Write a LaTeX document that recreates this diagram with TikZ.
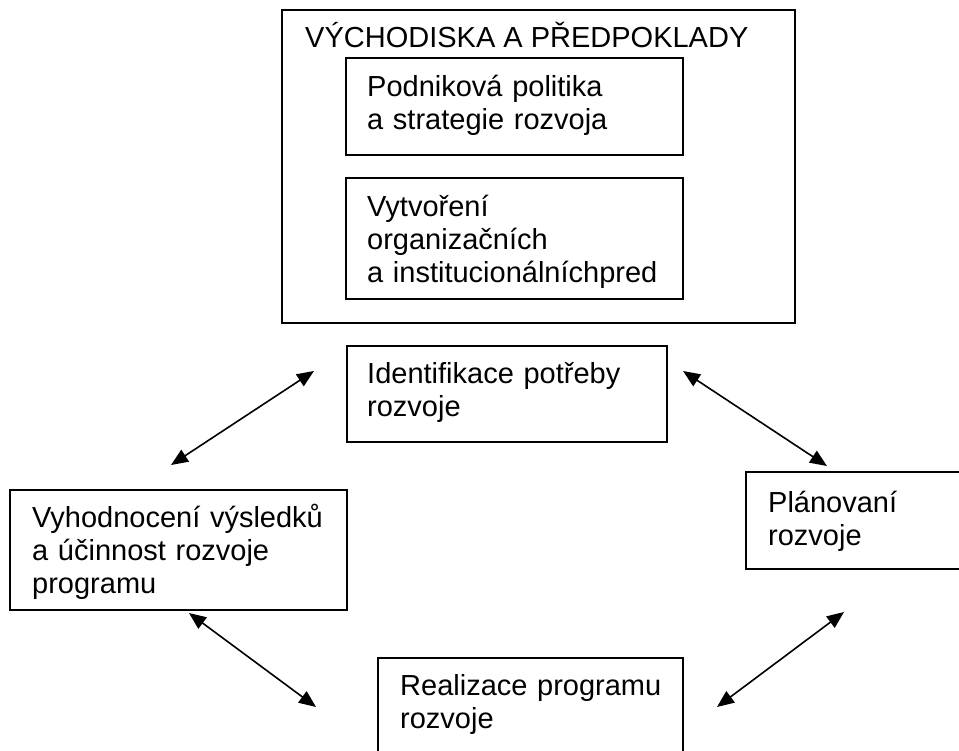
\documentclass[tikz,border=0pt]{standalone}
\usepackage{fontspec}
\setmainfont{Liberation Sans}
\usetikzlibrary{arrows.meta,calc}
\begin{document}
\begin{tikzpicture}[x=1pt,y=-1pt,
  box/.style={draw,line width=1.8pt,inner sep=0pt,outer sep=0pt,anchor=north west},
  txt/.style={anchor=base west,inner sep=0pt,text width=440pt,align=left,font=\fontsize{29}{33}\selectfont},
  ttl/.style={anchor=base west,inner sep=0pt,font=\fontsize{29}{33}\selectfont},
  link/.style={line width=1.6pt,{Triangle[length=17pt,width=14pt]}-{Triangle[length=17pt,width=14pt]}}]
\useasboundingbox (0,0) rectangle (959,751);
\clip (0,0) rectangle (959,751);
% outer frame
\node[box,minimum width=513pt,minimum height=313pt] (outer) at (282,10) {};
\node[ttl] (title) at ($(outer.north west)+(23,38)$) {VÝCHODISKA A PŘEDPOKLADY};
% inner boxes
\node[box,minimum width=337pt,minimum height=97pt] (pod) at (346,58) {};
\node[txt] (podt) at ($(pod.north west)+(21,39)$) {Podniková politika\\a strategie rozvoja};
\node[box,minimum width=337pt,minimum height=121pt] (vyt) at (346,178) {};
\node[txt] (vytt) at ($(vyt.north west)+(21,39)$) {Vytvoření\\organizačních\\a institucionálníchpred};
% cycle boxes
\node[box,minimum width=320pt,minimum height=96pt] (ident) at (347,346) {};
\node[txt] (identt) at ($(ident.north west)+(20,38)$) {Identifikace potřeby\\rozvoje};
\node[box,minimum width=240pt,minimum height=97pt] (plan) at (746,472) {};
\node[txt] (plant) at ($(plan.north west)+(22,40)$) {Plánovaní\\rozvoje};
\node[box,minimum width=337pt,minimum height=120pt] (vyh) at (10,490) {};
\node[txt] (vyht) at ($(vyh.north west)+(22,37)$) {Vyhodnocení výsledků\\a účinnost rozvoje\\programu};
\node[box,minimum width=305pt,minimum height=140pt] (real) at (378,658) {};
\node[txt] (realt) at ($(real.north west)+(22,37)$) {Realizace programu\\rozvoje};
% arrow end points
\coordinate (a1s) at (171,465);
\coordinate (a1e) at (314,371);
\coordinate (a2s) at (683,371);
\coordinate (a2e) at (827,466);
\coordinate (a3s) at (189,613);
\coordinate (a3e) at (316,707);
\coordinate (a4s) at (717,707);
\coordinate (a4e) at (844,612);
\draw[link] (a1s) -- (a1e);
\draw[link] (a2s) -- (a2e);
\draw[link] (a3s) -- (a3e);
\draw[link] (a4s) -- (a4e);
\end{tikzpicture}
\end{document}
